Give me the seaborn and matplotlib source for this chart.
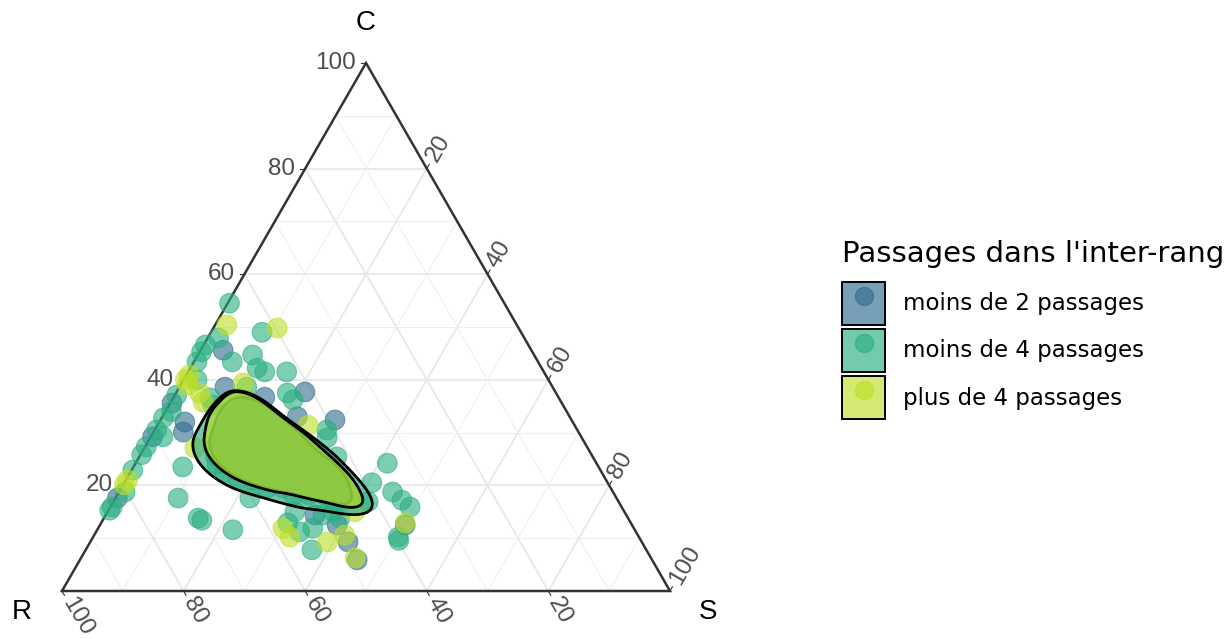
import numpy as np
import pandas as pd
import matplotlib
matplotlib.use("Agg")
import matplotlib.pyplot as plt
import seaborn as sns
from matplotlib.patches import Patch
from matplotlib.lines import Line2D

# ---------------- data (percentages: C, S ; R = 100 - C - S) ----------------
groups = ["moins de 2 passages", "moins de 4 passages", "plus de 4 passages"]

# scattered observations
b_C = [45.6, 38.6, 35.6, 32.0, 30.1, 29.2, 17.6, 36.7, 37.7, 33.0, 32.4, 12.5, 9.3, 5.9, 12.5, 14.4]
b_S = [3.7, 7.5, 0.3, 4.2, 4.9, 0.3, 0.3, 15.0, 21.1, 22.2, 28.7, 39.0, 42.4, 45.6, 50.2, 34.4]
g_C = [54.5, 47.9, 46.6, 45.3, 43.4, 40.0, 37.1, 34.0, 32.8, 30.5, 29.2, 27.3, 25.8, 22.9, 18.75,
       15.9, 15.3, 35.2, 23.5, 17.6, 13.8, 11.6, 49.0, 43.4, 44.7, 42.2, 41.5, 41.5, 36.6, 38.6,
       37.5, 36.2, 30.5, 29.0, 13.4, 17.6, 12.9, 11.2, 11.9, 7.8, 20.5, 16.9, 15.0, 14.4, 25.4,
       24.2, 18.75, 17.2, 15.9, 10.2, 9.6, 15.0, 13.8]
g_S = [0.3, 1.8, 0.3, 0.3, 0.5, 2.2, 0.3, 1.0, 0.3, 0.3, 2.0, 0.2, 0.2, 0.2, 1.0,
       0.3, 0.2, 7.2, 8.1, 10.3, 15.5, 22.3, 8.4, 6.3, 9.0, 11.0, 12.6, 16.2, 6.0, 11.1,
       18.3, 19.9, 28.3, 29.1, 16.3, 22.1, 30.7, 33.5, 35.3, 37.2, 40.7, 41.9, 37.1, 35.7, 32.5,
       41.4, 45.0, 47.3, 49.3, 50.2, 50.6, 30.8, 38.8]
y_C = [50.4, 49.8, 40.9, 40.0, 39.0, 37.5, 35.8, 27.1, 21.0, 20.1, 39.4, 31.4, 10.2, 9.3, 10.6,
       12.9, 6.25, 11.9, 15.0]
y_S = [1.9, 10.5, 0.5, 0.3, 1.2, 3.9, 5.3, 8.3, 0.3, 0.2, 10.1, 24.8, 32.4, 39.0, 41.2,
       50.0, 45.1, 30.4, 40.7]

# observations of the dense cluster (under the density region), by row of equal C
b_dense_rowC = [34.5, 33, 31.5, 30, 28.5, 27, 25.5, 24, 22.5, 21, 19.5, 18.2]
b_dense_rowS = [[13, 15], [12.5, 14.5, 16.5], [12.5, 15, 17, 19], [13, 15, 17.5, 20, 22],
                [13, 15.5, 18, 20.5, 23], [13.5, 16, 18.5, 21, 23.5, 25.5],
                [14.5, 17, 19.5, 22, 24.5, 27], [16, 18.5, 21, 23.5, 26, 28.5, 30.5],
                [18.5, 21, 23.5, 26, 28.5, 31, 33], [23.5, 26, 28.5, 31, 33.5],
                [30, 32.5, 35], [36]]
g_dense_rowC = [36, 34.5, 33, 31.5, 30, 28.5, 27, 25.5, 24, 22.5, 21, 19.5, 18.2, 17.3]
g_dense_rowS = [[12.5], [12, 14.5], [11.5, 14, 16.5], [11.5, 14, 16.5, 19],
                [11.5, 14, 16.5, 19, 22], [11.5, 14, 16.5, 19, 21.5, 24.5],
                [11.5, 14, 16.5, 19, 21.5, 24, 26.5],
                [12.5, 15, 17.5, 20, 22.5, 25, 27.5, 29.5],
                [13.5, 16, 18.5, 21, 23.5, 26, 28.5, 31],
                [15.5, 18, 20.5, 23, 25.5, 28, 30.5, 33],
                [18.5, 21, 23.5, 26, 28.5, 31, 33.5, 35.5],
                [24, 26.5, 29, 31.5, 34, 36.5], [29, 31.5, 34, 36.5, 38.5], [36, 38.5]]
y_dense_rowC = [36, 34.5, 33, 31.5, 30, 28.5, 27, 25.5, 24, 22.5, 21, 19.5, 18.2]
y_dense_rowS = [[12.5], [12, 14.5], [11.5, 14, 16.5], [11.5, 14, 16.5, 19],
                [12, 14.5, 17, 19.5, 22], [12.5, 15, 17.5, 20, 22.5, 24.5],
                [13, 15.5, 18, 20.5, 23, 25.5], [14, 16.5, 19, 21.5, 24, 26.5, 29],
                [15.5, 18, 20.5, 23, 25.5, 28, 30.5], [18, 20.5, 23, 25.5, 28, 30.5, 33],
                [23, 25.5, 28, 30.5, 33, 35], [30, 32.5, 35], [36, 38]]

tick_values = [20, 40, 60, 80, 100]
axis_names = ["C", "R", "S"]
legend_title = "Passages dans l'inter-rang"

# ---------------- build frame ----------------
frames = []
for grp, C, S, rC, rS in [(groups[0], b_C, b_S, b_dense_rowC, b_dense_rowS),
                          (groups[1], g_C, g_S, g_dense_rowC, g_dense_rowS),
                          (groups[2], y_C, y_S, y_dense_rowC, y_dense_rowS)]:
    dC = [c for c, row in zip(rC, rS) for _ in row]
    dS = [s for row in rS for s in row]
    Cs = np.array(C + dC, dtype=float)
    Ss = np.array(S + dS, dtype=float)
    frames.append(pd.DataFrame({"C": Cs, "S": Ss, "R": 100 - Cs - Ss, "group": grp,
                                "dense": [False] * len(C) + [True] * len(dC)}))
df = pd.concat(frames, ignore_index=True)

H = np.sqrt(3) / 2


def proj(C, S):
    C = np.asarray(C, dtype=float) / 100
    S = np.asarray(S, dtype=float) / 100
    return S + C / 2, C * H


px, py = proj(df["C"].to_numpy(), df["S"].to_numpy())
df["px"] = px
df["py"] = py

cmap = matplotlib.colormaps["viridis"]
colors = [cmap(0.35), cmap(0.625), cmap(0.9)]
palette = dict(zip(groups, colors))

# ---------------- figure ----------------
W, Hpx = 1231, 639
fig = plt.figure(figsize=(W / 100, Hpx / 100), dpi=100)
ax = fig.add_axes([62 / W, 48 / Hpx, 608 / W, 528 / Hpx])
ax.set_xlim(0, 1)
ax.set_ylim(0, H)
ax.axis("off")

# grid
for v in range(10, 100, 10):
    major = v % 20 == 0
    lw = 1.3 if major else 0.7
    col = "#E8E8E8" if major else "#EEEEEE"
    for (c1, s1), (c2, s2) in [((v, 0), (v, 100 - v)),
                               ((0, v), (100 - v, v)),
                               ((0, 100 - v), (100 - v, 0))]:
        x1, y1 = proj(c1, s1)
        x2, y2 = proj(c2, s2)
        ax.plot([x1, x2], [y1, y2], color=col, lw=lw, zorder=0, solid_capstyle="butt")

# border
bx, by = proj([0, 0, 100, 0], [0, 100, 0, 0])
ax.plot(bx, by, color="#333333", lw=1.8, zorder=1, clip_on=False, solid_joinstyle="miter")

# ticks and labels
L = 0.008
gap = 0.008
tick_kw = dict(color="#333333", lw=0.8, clip_on=False, zorder=1)
lab_kw = dict(family="Liberation Sans", size=17.5, color="#4D4D4D")
for v in tick_values:
    # C on the left edge
    x0, y0 = proj(v, 0)
    ax.plot([x0, x0 - L], [y0, y0], **tick_kw)
    ax.text(x0 - L - gap, y0, str(v), ha="right", va="center", **lab_kw)
    # R on the bottom edge
    x0, y0 = proj(0, 100 - v)
    d = np.array([0.5, -H])
    ax.plot([x0, x0 + d[0] * L], [y0, y0 + d[1] * L], **tick_kw)
    ax.text(x0 + d[0] * (L + gap), y0 + d[1] * (L + gap), str(v), rotation=-60,
            rotation_mode="anchor", ha="left", va="center", **lab_kw)
    # S on the right edge
    x0, y0 = proj(100 - v, v)
    d = np.array([0.5, H])
    ax.plot([x0, x0 + d[0] * L], [y0, y0 + d[1] * L], **tick_kw)
    ax.text(x0 + d[0] * (L + gap), y0 + d[1] * (L + gap), str(v), rotation=60,
            rotation_mode="anchor", ha="left", va="center", **lab_kw)

title_kw = dict(family="Liberation Sans", size=20, color="black", ha="center", va="center")
ax.text(0.5, H + 0.066, axis_names[0], **title_kw)
ax.text(-0.066, -0.035, axis_names[1], **title_kw)
ax.text(1.0625, -0.035, axis_names[2], **title_kw)

# points
sns.scatterplot(data=df, x="px", y="py", hue="group", hue_order=groups, palette=palette,
                s=200, alpha=0.6, edgecolor="face", linewidth=0.8, legend=False,
                ax=ax, zorder=2, clip_on=False)

# density regions (estimated from the dense cluster of each group)
levels_t = [0.07, 0.045, 0.06]
bws = [0.85, 0.85, 0.85]
for grp, t, bw in zip(groups, levels_t, bws):
    sub = df[(df["group"] == grp) & df["dense"]].reset_index(drop=True)
    sns.kdeplot(data=sub, x="px", y="py", fill=True, levels=[t, 1], color=palette[grp],
                colors=[palette[grp]], alpha=0.65, bw_adjust=bw, ax=ax, zorder=3)
    sns.kdeplot(data=sub, x="px", y="py", fill=False, levels=[t], color="black",
                linewidths=2.0, bw_adjust=bw, ax=ax, zorder=3)

ax.set_xlim(0, 1)
ax.set_ylim(0, H)
ax.axis("off")

# legend
fig.text(842 / W, 1 - 262 / Hpx, legend_title, ha="left", va="baseline",
         family="DejaVu Sans", size=21, color="black")
handles = []
for c in colors:
    patch = Patch(facecolor=(c[0], c[1], c[2], 0.65), edgecolor="black", linewidth=1.4)
    dot = Line2D([], [], marker="o", linestyle="none", markersize=13,
                 markerfacecolor=c, markeredgecolor=c, alpha=0.6)
    handles.append((patch, dot))
fs = 16.5
fig.legend(handles, groups, loc="upper left", bbox_to_anchor=(842 / W, 1 - 282 / Hpx),
           frameon=False, prop=dict(family="DejaVu Sans", size=fs),
           handlelength=1.88, handleheight=2.51, handletextpad=0.786, labelspacing=0.175,
           borderpad=0, borderaxespad=0)

fig.savefig("out.png", dpi=100)
